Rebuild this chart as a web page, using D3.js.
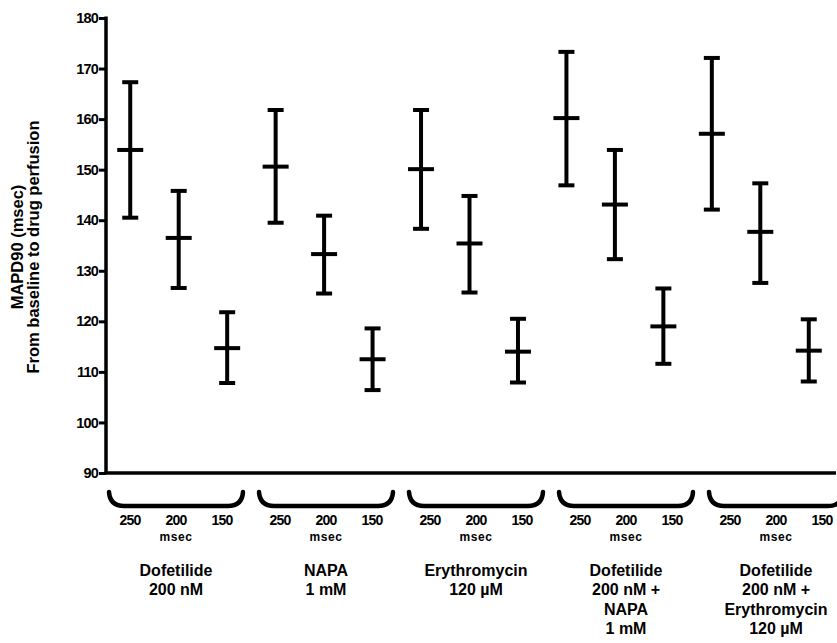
<!DOCTYPE html>
<html>
<head>
<meta charset="utf-8">
<script src="https://cdn.jsdelivr.net/npm/d3@7"></script>
<style>
  body { margin: 0; background: #fff; }
  text { font-family: "Liberation Sans", Arial, sans-serif; font-weight: bold; fill: #000; }
</style>
</head>
<body>
<script>
// treatments, each one was paced at 250, 200 and 150 msec
const groups = [
  ["Dofetilide", "200 nM"],
  ["NAPA", "1 mM"],
  ["Erythromycin", "120 \u00b5M"],
  ["Dofetilide", "200 nM +", "NAPA", "1 mM"],
  ["Dofetilide", "200 nM +", "Erythromycin", "120 \u00b5M"]
];
const rates = ["250", "200", "150"];
const yTicks = [90, 100, 110, 120, 130, 140, 150, 160, 170, 180];

// mean and error bar ends, one row per treatment, in rate order
const means = [
  [153.9, 136.5, 114.7],
  [150.6, 133.3, 112.5],
  [150.1, 135.4, 114.0],
  [160.2, 143.1, 119.0],
  [157.1, 137.7, 114.2]
];
const upper = [
  [167.3, 145.8, 121.8],
  [161.8, 140.9, 118.6],
  [161.8, 144.8, 120.5],
  [173.3, 153.9, 126.5],
  [172.1, 147.3, 120.4]
];
const lower = [
  [140.5, 126.6, 107.8],
  [139.5, 125.5, 106.4],
  [138.3, 125.7, 107.9],
  [146.9, 132.3, 111.6],
  [142.1, 127.6, 108.1]
];

document.addEventListener("DOMContentLoaded", draw);

function draw() {
  const width = 837, height = 643;
  const svg = d3.select("body").append("svg")
    .attr("width", width)
    .attr("height", height);

  const keys = [];
  groups.forEach((g, i) => rates.forEach(r => keys.push(i + "-" + r)));

  const y = d3.scaleLinear().domain([90, 180]).range([473, 18]);
  const x = d3.scalePoint().domain(keys).range([106, 833]).padding(0.5);
  // the brackets + labels under the axis sit on their own spacing
  const gx = d3.scaleBand().domain(d3.range(groups.length)).range([101, 851]);
  const rx = d3.scalePoint().domain(rates).range([-46, 46]);

  // y axis
  const yAxis = svg.append("g")
    .attr("transform", "translate(106,0)")
    .call(d3.axisLeft(y).tickValues(yTicks).tickSize(7).tickPadding(1).tickSizeOuter(0));
  yAxis.select(".domain").remove();
  yAxis.selectAll(".tick line").attr("stroke", "#000").attr("stroke-width", 3);
  yAxis.selectAll(".tick text")
    .style("font-size", "14.5px")
    .style("letter-spacing", "-0.8px")
    .attr("fill", "#000");

  svg.append("line")
    .attr("x1", 106).attr("x2", 106)
    .attr("y1", y(180) - 1.5).attr("y2", y(90))
    .attr("stroke", "#000").attr("stroke-width", 3.5);
  svg.append("line")
    .attr("x1", 104.5).attr("x2", 836)
    .attr("y1", y(90)).attr("y2", y(90))
    .attr("stroke", "#000").attr("stroke-width", 3.5);

  // y title
  const yTitle = svg.append("text")
    .attr("transform", "translate(23," + 247 + ") rotate(-90)")
    .attr("text-anchor", "middle")
    .style("font-size", "16.5px");
  yTitle.append("tspan").attr("x", 0).attr("dy", 0).text("MAPD90 (msec)");
  yTitle.append("tspan").attr("x", 0).attr("dy", 16).text("From baseline to drug perfusion");

  // error bars
  const pts = [];
  groups.forEach((g, i) => rates.forEach((r, j) => {
    pts.push({key: i + "-" + r, mean: means[i][j], hi: upper[i][j], lo: lower[i][j]});
  }));

  const bars = svg.append("g").selectAll("g")
    .data(pts)
    .join("g")
    .attr("stroke", "#000")
    .attr("stroke-width", 4);

  bars.append("line")
    .attr("x1", d => x(d.key)).attr("x2", d => x(d.key))
    .attr("y1", d => y(d.hi)).attr("y2", d => y(d.lo));
  bars.append("line")
    .attr("x1", d => x(d.key) - 8).attr("x2", d => x(d.key) + 8)
    .attr("y1", d => y(d.hi)).attr("y2", d => y(d.hi));
  bars.append("line")
    .attr("x1", d => x(d.key) - 8).attr("x2", d => x(d.key) + 8)
    .attr("y1", d => y(d.lo)).attr("y2", d => y(d.lo));
  bars.append("line")
    .attr("x1", d => x(d.key) - 13).attr("x2", d => x(d.key) + 13)
    .attr("y1", d => y(d.mean)).attr("y2", d => y(d.mean));

  // brackets and labels below the axis
  const under = svg.append("g").selectAll("g")
    .data(groups)
    .join("g")
    .attr("transform", (d, i) => "translate(" + (gx(i) + gx.bandwidth() / 2) + ",0)");

  under.append("path")
    .attr("d", () => {
      const l = -66, r = 66, top = 492, bot = 506;
      return "M" + (l - 1) + "," + top + " Q" + l + "," + bot + " " + (l + 14) + "," + bot +
        " L" + (r - 14) + "," + bot + " Q" + r + "," + bot + " " + (r + 1) + "," + top;
    })
    .attr("fill", "none")
    .attr("stroke", "#000")
    .attr("stroke-width", 4.5)
    .attr("stroke-linecap", "round");

  under.selectAll(".rate")
    .data(rates)
    .join("text")
    .attr("class", "rate")
    .attr("x", d => rx(d))
    .attr("y", 525)
    .attr("text-anchor", "middle")
    .style("font-size", "14px")
    .style("letter-spacing", "-0.8px")
    .text(d => d);

  under.append("text")
    .attr("x", 0)
    .attr("y", 541)
    .attr("text-anchor", "middle")
    .style("font-size", "12px")
    .style("letter-spacing", "0.6px")
    .text("msec");

  under.append("text")
    .attr("text-anchor", "middle")
    .style("font-size", "16px")
    .selectAll("tspan")
    .data(d => d)
    .join("tspan")
    .attr("x", 0)
    .attr("y", (d, k) => 575.5 + k * 19.5)
    .text(d => d);
}
</script>
</body>
</html>
